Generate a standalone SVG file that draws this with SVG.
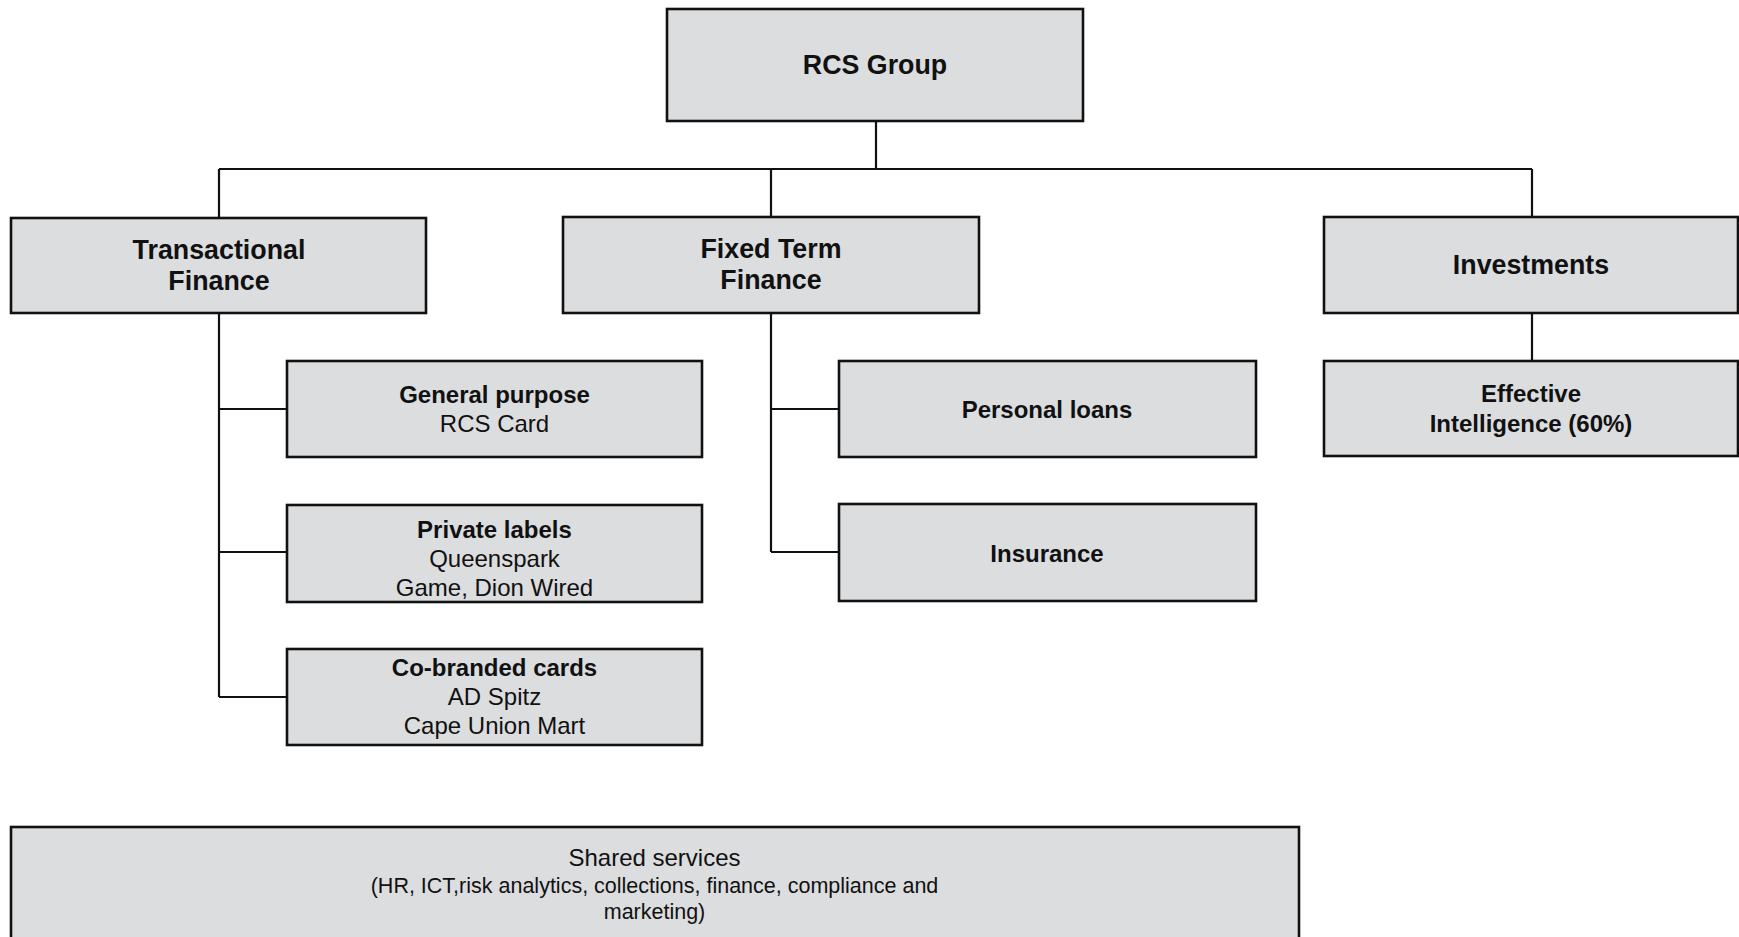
<svg xmlns="http://www.w3.org/2000/svg" width="1739" height="937" viewBox="0 0 1739 937">
<style>
.box{fill:#dcdddf;stroke:#111;stroke-width:2.6}
.t{font-family:"Liberation Sans",Arial,sans-serif;fill:#111;text-anchor:middle}
.b26{font-size:26.8px;font-weight:bold}
.b24{font-size:24px;font-weight:bold}
.r24{font-size:24px}
.r21{font-size:21.5px}
.c{fill:none;stroke:#111;stroke-width:2.2}
</style>
<rect width="1739" height="937" fill="#fff"/>
<g id="connectors">
<path class="c" d="M876 121V169M219 169H1532M219 169V218M771 169V217M1532 169V217"/>
<path class="c" d="M219 313V697M219 409H287M219 552H287M219 697H287"/>
<path class="c" d="M771 313V552M771 409H839M771 552H839"/>
<path class="c" d="M1532 313V361"/>
</g>
<g id="rcs-group">
<rect class="box" x="667" y="9" width="416" height="112"/>
<text class="t b26" x="875" y="74">RCS Group</text>
</g>
<g id="transactional-finance">
<rect class="box" x="11" y="218" width="415" height="95"/>
<text class="t b26" x="219" y="259">Transactional</text>
<text class="t b26" x="219" y="290">Finance</text>
</g>
<g id="fixed-term-finance">
<rect class="box" x="563" y="217" width="416" height="96"/>
<text class="t b26" x="771" y="258">Fixed Term</text>
<text class="t b26" x="771" y="289">Finance</text>
</g>
<g id="investments">
<rect class="box" x="1324" y="217" width="414" height="96"/>
<text class="t b26" x="1531" y="274">Investments</text>
</g>
<g id="general-purpose">
<rect class="box" x="287" y="361" width="415" height="96"/>
<text class="t b24" x="494.5" y="403">General purpose</text>
<text class="t r24" x="494.5" y="432">RCS Card</text>
</g>
<g id="private-labels">
<rect class="box" x="287" y="505" width="415" height="97"/>
<text class="t b24" x="494.5" y="538">Private labels</text>
<text class="t r24" x="494.5" y="567">Queenspark</text>
<text class="t r24" x="494.5" y="596">Game, Dion Wired</text>
</g>
<g id="co-branded">
<rect class="box" x="287" y="649" width="415" height="96"/>
<text class="t b24" x="494.5" y="676">Co-branded cards</text>
<text class="t r24" x="494.5" y="705">AD Spitz</text>
<text class="t r24" x="494.5" y="734">Cape Union Mart</text>
</g>
<g id="personal-loans">
<rect class="box" x="839" y="361" width="417" height="96"/>
<text class="t b24" x="1047" y="418">Personal loans</text>
</g>
<g id="insurance">
<rect class="box" x="839" y="504" width="417" height="97"/>
<text class="t b24" x="1047" y="562">Insurance</text>
</g>
<g id="effective-intelligence">
<rect class="box" x="1324" y="361" width="414" height="95"/>
<text class="t b24" x="1531" y="402">Effective</text>
<text class="t b24" x="1531" y="432">Intelligence (60%)</text>
</g>
<g id="shared-services">
<rect class="box" x="11" y="827" width="1288" height="130"/>
<text class="t r24" x="654.5" y="866">Shared services</text>
<text class="t r21" x="654.5" y="893">(HR, ICT,risk analytics, collections, finance, compliance and</text>
<text class="t r21" x="654.5" y="919">marketing)</text>
</g>
</svg>
